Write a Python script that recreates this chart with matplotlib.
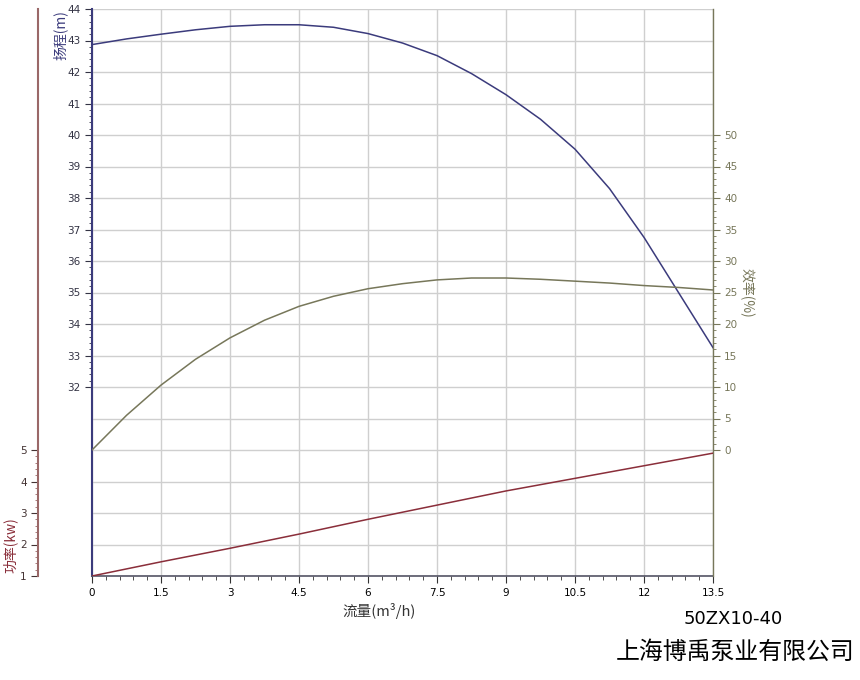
import matplotlib
matplotlib.use("Agg")
import matplotlib.pyplot as plt
import numpy as np
from matplotlib.ticker import MultipleLocator, FixedLocator

plt.rcParams['font.family'] = ['DejaVu Sans', 'Noto Sans CJK SC']

# ------------------------------
# Data
# ------------------------------
flow = [0, 0.75, 1.5, 2.25, 3, 3.75, 4.5, 5.25, 6, 6.75, 7.5, 8.25, 9, 9.75,
        10.5, 11.25, 12, 12.75, 13.5]
head = [42.87, 43.05, 43.2, 43.34, 43.45, 43.5, 43.5, 43.42, 43.22, 42.92, 42.52,
        41.95, 41.28, 40.5, 39.55, 38.3, 36.75, 35.0, 33.25]

efficiency = [0, 5.5, 10.3, 14.4, 17.8, 20.6, 22.8, 24.4, 25.6, 26.4, 27.0, 27.3,
              27.3, 27.1, 26.8, 26.5, 26.1, 25.8, 25.4]

flow_pow = [0, 1.5, 3, 4.5, 6, 7.5, 9, 10.5, 12, 13.5]
power = [1.0, 1.45, 1.88, 2.33, 2.8, 3.25, 3.7, 4.1, 4.5, 4.9]

x_ticks = [0, 1.5, 3, 4.5, 6, 7.5, 9, 10.5, 12, 13.5]
x_labels = ["0", "1.5", "3", "4.5", "6", "7.5", "9", "10.5", "12", "13.5"]

HEAD_C = "#3b3b7c"
EFF_C = "#77775a"
POW_C = "#8a2e3a"
POW_SPINE = "#9a6868"
GRID_C = "#cfcfcf"

W, H = 860, 680
fig = plt.figure(figsize=(W / 100, H / 100), dpi=100)
ax = fig.add_axes([92 / W, (H - 576) / H, (713 - 92) / W, (576 - 9) / H])

# ------------------------------
# head axis (main)
# ------------------------------
ax.set_xlim(0, 13.5)
ax.set_ylim(26, 44)
ax.hlines(np.arange(26, 45), 0, 13.5, color=GRID_C, lw=1, zorder=0)
ax.set_xticks(x_ticks)
ax.set_xticklabels(x_labels)
ax.xaxis.set_minor_locator(MultipleLocator(0.3))
ax.grid(axis='x', color=GRID_C, lw=1, zorder=0)
ax.set_yticks(range(32, 45))
ax.yaxis.set_minor_locator(FixedLocator(np.arange(32, 44.01, 0.2)))
ax.tick_params(axis='x', which='major', length=5, labelsize=7.5, pad=4, color="#333333")
ax.tick_params(axis='x', which='minor', length=3, color="#333333")
ax.tick_params(axis='y', which='major', length=5, labelsize=7.5, colors="#333344", pad=3)
ax.tick_params(axis='y', which='minor', length=2.5, color="#333344")
ax.plot(flow, head, color=HEAD_C, lw=1.1, zorder=3)
for s in ["top", "right"]:
    ax.spines[s].set_visible(False)
ax.spines["left"].set_color(HEAD_C)
ax.spines["left"].set_linewidth(1.5)
ax.spines["bottom"].set_color("#555566")
ax.spines["bottom"].set_linewidth(1.2)

# ------------------------------
# efficiency axis (right)
# ------------------------------
ax2 = ax.twinx()
ax2.set_ylim(-20, 70)
ax2.set_yticks(range(0, 51, 5))
ax2.yaxis.set_minor_locator(FixedLocator(range(0, 51)))
ax2.tick_params(axis='y', which='major', length=5, labelsize=7.5, colors=EFF_C, pad=3)
ax2.tick_params(axis='y', which='minor', length=2.5, color=EFF_C)
ax2.plot(flow, efficiency, color=EFF_C, lw=1.1, zorder=3)
for s in ["top", "left", "bottom"]:
    ax2.spines[s].set_visible(False)
ax2.spines["right"].set_color(EFF_C)
ax2.spines["right"].set_linewidth(1.0)

# ------------------------------
# power axis (far left)
# ------------------------------
ax3 = ax.twinx()
ax3.set_ylim(1, 19)
ax3.yaxis.set_ticks_position("left")
ax3.yaxis.set_label_position("left")
ax3.spines["left"].set_position(("outward", 54 * 0.72))
ax3.spines["left"].set_visible(True)
for s in ["top", "right", "bottom"]:
    ax3.spines[s].set_visible(False)
ax3.spines["left"].set_color(POW_SPINE)
ax3.spines["left"].set_linewidth(1.5)
ax3.set_yticks(range(1, 6))
ax3.yaxis.set_minor_locator(FixedLocator(np.arange(1, 5.01, 0.2)))
ax3.tick_params(axis='y', which='major', length=5, labelsize=7.5, colors="#443333", pad=3)
ax3.tick_params(axis='y', which='minor', length=2.5, color=POW_SPINE)
ax3.plot(flow_pow, power, color=POW_C, lw=1.1, zorder=3)

# ------------------------------
# labels
# ------------------------------
cjk = ['Noto Sans CJK SC', 'DejaVu Sans']
fig.text(60 / W, 1 - 35 / H, "扬程(m)", rotation=90, ha="center", va="center",
         fontsize=10, color=HEAD_C, family=cjk)
fig.text(10 / W, 1 - 545 / H, "功率(kw)", rotation=90, ha="center", va="center",
         fontsize=10, color=POW_C, family=cjk)
fig.text(747 / W, 1 - 293 / H, "效率(%)", rotation=-90, ha="center", va="center",
         fontsize=10, color=EFF_C, family=cjk)
fig.text(379 / W, 1 - 611 / H, "流量(m³/h)", ha="center", va="center",
         fontsize=10.5, color="#333333", family=cjk)
fig.text(733 / W, 1 - 619 / H, "50ZX10-40", ha="center", va="center",
         fontsize=13, color="black", family="DejaVu Sans")
fig.text(735 / W, 1 - 652 / H, "上海博禹泵业有限公司", ha="center", va="center",
         fontsize=17.2, color="black", family=cjk)

fig.savefig("out.png", dpi=100, facecolor="white")
